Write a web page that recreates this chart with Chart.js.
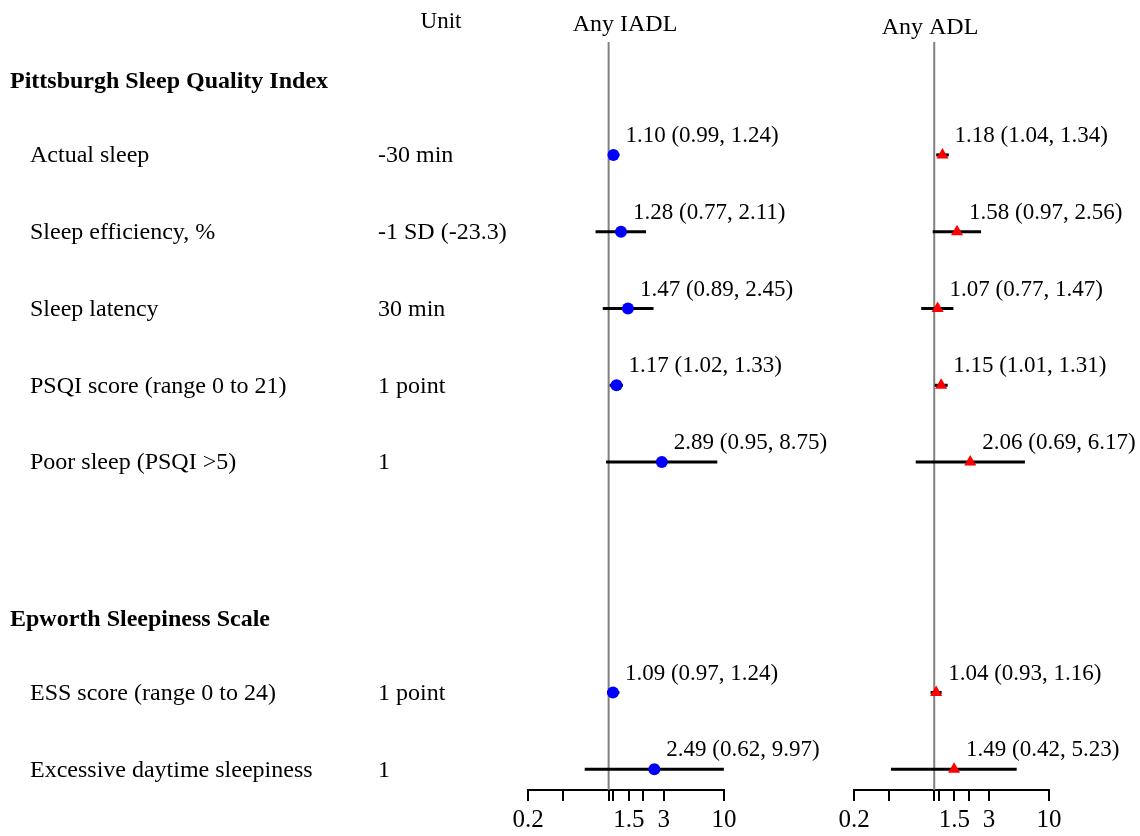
<!DOCTYPE html>
<html>
<head>
<meta charset="utf-8">
<script src="https://cdn.jsdelivr.net/npm/chart.js@4"></script>
<style>
  html, body { margin: 0; padding: 0; background: #fff; }
  #wrap { position: relative; width: 1140px; height: 836px; }
  #left { position: absolute; left: 0; top: 0; }
  #right { position: absolute; left: 830px; top: 0; }
</style>
</head>
<body>
<div id="wrap">
  <canvas id="left" width="830" height="836"></canvas>
  <canvas id="right" width="310" height="836"></canvas>
</div>
<script>
// rows: 0 = PSQI header, 6 = blank, 7 = ESS header
const rowLabels = ['Pittsburgh Sleep Quality Index', 'Actual sleep', 'Sleep efficiency, %', 'Sleep latency',
  'PSQI score (range 0 to 21)', 'Poor sleep (PSQI >5)', '', 'Epworth Sleepiness Scale',
  'ESS score (range 0 to 24)', 'Excessive daytime sleepiness'];
const headerRows = [0, 7];
const units = ['', '-30 min', '-1 SD (-23.3)', '30 min', '1 point', '1', '', '', '1 point', '1'];
const dataRows = [1, 2, 3, 4, 5, 8, 9];

const iadlEst = [1.10, 1.28, 1.47, 1.17, 2.89, 1.09, 2.49];
const iadlLo  = [0.99, 0.77, 0.89, 1.02, 0.95, 0.97, 0.62];
const iadlHi  = [1.24, 2.11, 2.45, 1.33, 8.75, 1.24, 9.97];

const adlEst = [1.18, 1.58, 1.07, 1.15, 2.06, 1.04, 1.49];
const adlLo  = [1.04, 0.97, 0.77, 1.01, 0.69, 0.93, 0.42];
const adlHi  = [1.34, 2.56, 1.47, 1.31, 6.17, 1.16, 5.23];

const tickValues = [0.2, 0.4, 1, 1.1, 1.5, 2, 3, 10];
const shownTicks = { 0.2: '0.2', 1.5: '1.5', 3: '3', 10: '10' };

const FONT = '"Liberation Serif", "Times New Roman", serif';
const FS = 24;     // row labels, units
const FS_ANN = 23; // estimate labels
const FS_TICK = 25;

function panelPlugin(est, lo, hi, title, drawLeftText) {
  return {
    id: 'panel',
    beforeDatasetsDraw(chart) {
      const { ctx, chartArea, scales } = chart;
      const x1 = scales.x.getPixelForValue(1);
      ctx.save();
      ctx.strokeStyle = '#808080';
      ctx.lineWidth = 2;
      ctx.beginPath();
      ctx.moveTo(x1, chartArea.top);
      ctx.lineTo(x1, chartArea.bottom);
      ctx.stroke();
      ctx.restore();
    },
    afterDatasetsDraw(chart) {
      const { ctx, scales } = chart;
      ctx.save();
      ctx.fillStyle = '#000';
      ctx.font = FS_ANN + 'px ' + FONT;
      ctx.textBaseline = 'middle';
      ctx.textAlign = 'left';
      est.forEach((e, i) => {
        const px = scales.x.getPixelForValue(e);
        const py = scales.y.getPixelForValue(dataRows[i]);
        ctx.fillText(e.toFixed(2) + ' (' + lo[i].toFixed(2) + ', ' + hi[i].toFixed(2) + ')', px + 12, py - 19);
      });
      ctx.textAlign = 'center';
      ctx.font = FS + 'px ' + FONT;
      ctx.fillText(title.text, title.x, title.y);
      if (drawLeftText) {
        ctx.font = FS_ANN + 'px ' + FONT;
        ctx.fillText('Unit', 441, 22);
        ctx.textAlign = 'left';
        rowLabels.forEach((lab, r) => {
          if (!lab) return;
          const py = scales.y.getPixelForValue(r);
          const isHead = headerRows.includes(r);
          ctx.font = (isHead ? 'bold ' : '') + FS + 'px ' + FONT;
          ctx.fillText(lab, isHead ? 10 : 30, py + (isHead ? 4 : 1));
        });
        ctx.font = FS + 'px ' + FONT;
        units.forEach((u, r) => {
          if (!u) return;
          ctx.fillText(u, 378, scales.y.getPixelForValue(r) + 1);
        });
      }
      ctx.restore();
    }
  };
}

function makePanel(id, est, lo, hi, marker, color, padding, title, leftText) {
  const ciSets = est.map((e, i) => ({
    type: 'line',
    data: [{ x: lo[i], y: dataRows[i] }, { x: hi[i], y: dataRows[i] }],
    borderColor: '#000',
    borderWidth: 3,
    pointRadius: 0,
    order: 2
  }));
  const pointSet = {
    type: 'scatter',
    data: est.map((e, i) => ({ x: e, y: dataRows[i] })),
    pointStyle: marker,
    pointRadius: marker === 'circle' ? 6 : 7,
    backgroundColor: color,
    borderColor: color,
    borderWidth: 0,
    order: 1
  };
  return new Chart(document.getElementById(id), {
    type: 'scatter',
    data: { datasets: [...ciSets, pointSet] },
    options: {
      responsive: false,
      animation: false,
      events: [],
      layout: { padding: padding },
      plugins: { legend: { display: false }, tooltip: { enabled: false } },
      scales: {
        x: {
          type: 'logarithmic',
          min: 0.2,
          max: 10,
          afterBuildTicks: (s) => { s.ticks = tickValues.map(v => ({ value: v })); },
          afterFit: (s) => { s.height = 46; },
          ticks: {
            autoSkip: false,
            maxRotation: 0,
            padding: 4,
            color: '#000',
            font: { family: FONT, size: FS_TICK },
            callback: (v) => shownTicks[v] || ''
          },
          grid: { drawOnChartArea: false, tickLength: 11, color: '#000', lineWidth: 2 },
          border: { color: '#000', width: 2 }
        },
        y: {
          type: 'linear',
          display: false,
          reverse: true,
          min: -0.47,
          max: 9.27
        }
      }
    },
    plugins: [panelPlugin(est, lo, hi, title, leftText)]
  });
}

makePanel('left', iadlEst, iadlLo, iadlHi, 'circle', '#0000ff',
  { left: 528, right: 106, top: 42, bottom: 0 }, { text: 'Any IADL', x: 625, y: 25 }, true);
makePanel('right', adlEst, adlLo, adlHi, 'triangle', '#ff0000',
  { left: 24, right: 91, top: 42, bottom: 0 }, { text: 'Any ADL', x: 100, y: 28 }, false);
</script>
</body>
</html>
